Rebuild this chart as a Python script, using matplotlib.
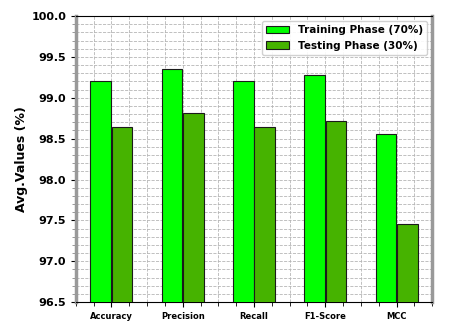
import matplotlib
matplotlib.use("Agg")
import matplotlib.pyplot as plt
import numpy as np
from matplotlib.ticker import MultipleLocator

# values
metrics = ["Accuracy", "Precision", "Recall", "F1-Score", "MCC"]
train_vals = [99.21, 99.35, 99.21, 99.28, 98.56]
test_vals = [98.64, 98.81, 98.64, 98.72, 97.46]

fig = plt.figure(figsize=(4.54, 3.28), dpi=100)
ax = fig.add_axes([0.167, 0.079, 0.785, 0.872])

x = np.arange(len(metrics))
w = 0.29
ax.bar(x - 0.15, train_vals, w, color="#00ff00", edgecolor="#1a1a1a", linewidth=0.8,
       label="Training Phase (70%)", zorder=3)
ax.bar(x + 0.15, test_vals, w, color="#46b300", edgecolor="#1a1a1a", linewidth=0.8,
       label="Testing Phase (30%)", zorder=3)

ax.set_xlim(-0.5, 4.5)
ax.set_ylim(96.5, 100.0)
ax.set_xticks(x)
ax.set_xticklabels(metrics, fontsize=6, fontweight="bold")
ax.xaxis.set_minor_locator(MultipleLocator(0.25))
ax.yaxis.set_major_locator(MultipleLocator(0.5))
ax.yaxis.set_minor_locator(MultipleLocator(0.1))
ax.yaxis.set_major_formatter(matplotlib.ticker.FormatStrFormatter("%.1f"))
for lab in ax.get_yticklabels():
    lab.set_fontweight("bold")
    lab.set_fontsize(8)
ax.tick_params(axis="y", which="minor", length=3, color="#888888")
ax.tick_params(axis="x", which="minor", length=3)

ax.grid(True, which="both", linestyle="--", color="#b5b5b5", linewidth=0.6, zorder=0)
ax.set_axisbelow(True)

for s in ["left", "right"]:
    ax.spines[s].set_color("#999999")
    ax.spines[s].set_linewidth(2.5)

ax.set_ylabel("Avg.Values (%)", fontsize=9, fontweight="bold", labelpad=2)
ax.legend(loc="upper right", prop={"weight": "bold", "size": 7.5}, framealpha=0.9,
          handlelength=2.2)

fig.savefig("out.png", dpi=100)
